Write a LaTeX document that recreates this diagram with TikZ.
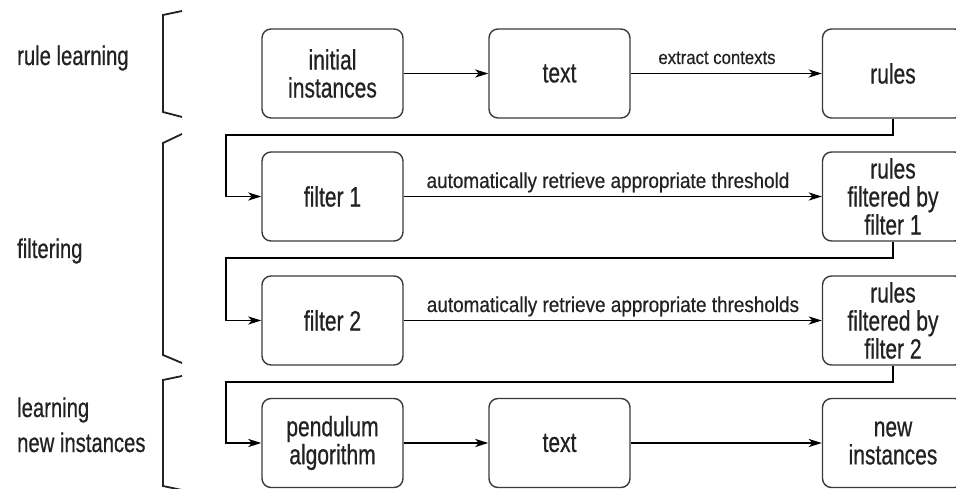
\documentclass[tikz,border=0pt]{standalone}
\usepackage{fontspec}
\usetikzlibrary{arrows.meta}
\newfontfamily\boxfont[FakeStretch=0.75,FakeBold=0.6]{Liberation Sans}
\newfontfamily\edgefont[FakeStretch=0.88,FakeBold=0.5]{Liberation Sans}
\definecolor{ink}{HTML}{222222}
\definecolor{frame}{HTML}{3A3A3A}
\tikzset{
  stagebox/.style={draw=frame, line width=1.4pt, rounded corners=9pt,
    minimum width=141pt, minimum height=89pt, inner sep=0pt, align=center,
    text=ink, font=\boxfont\fontsize{28}{28}\selectfont},
  conn/.style={draw=black, line width=1.9pt,
    -{Stealth[length=13pt,width=8pt,inset=3.5pt]}},
  brk/.style={draw=ink, line width=1.8pt},
  phase/.style={text=ink, inner sep=0pt, align=left,
    font=\boxfont\fontsize{27}{35}\selectfont},
  edgelab/.style={text=ink, inner sep=0pt, anchor=base,
    font=\edgefont\fontsize{21.5}{24}\selectfont}
}
\begin{document}
\begin{tikzpicture}[x=1pt,y=-1pt]
\clip (0,0) rectangle (956,489);

% phase labels
\node[phase, anchor=base west] (pl1) at (17,65) {rule learning};
\node[phase, anchor=base west] (pl2) at (17,258) {filtering};
\node[phase, anchor=base west] (pl3a) at (17,417) {learning};
\node[phase, anchor=base west] (pl3b) at (17,452) {new instances};

% phase brackets
\draw[brk] (182,11) -- (163,15) -- (163,112) -- (182,117);
\draw[brk] (182,134) -- (163,143) -- (163,355) -- (182,363);
\draw[brk] (182,376) -- (163,380) -- (163,486) -- (182,490);

% row 1: rule learning
\node[stagebox] (init)  at (332.5,73.5) {initial\\instances};
\node[stagebox] (text1) at (559.5,73.5) {text};
\node[stagebox] (rules) at (893,73.5)   {rules};

% row 2: first filter
\node[stagebox] (f1)  at (332.5,196.5) {filter 1};
\node[stagebox] (rf1) at (893,196.5)   {rules\\filtered by\\filter 1};

% row 3: second filter
\node[stagebox] (f2)  at (332.5,320.5) {filter 2};
\node[stagebox] (rf2) at (893,320.5)   {rules\\filtered by\\filter 2};

% row 4: learning new instances
\node[stagebox] (pend)  at (332.5,443) {pendulum\\algorithm};
\node[stagebox] (text2) at (559.5,443) {text};
\node[stagebox] (newi)  at (893,443)   {new\\instances};

% horizontal flow
\draw[conn] (init.east) -- (text1.west);
\draw[conn] (text1.east) -- (rules.west);
\draw[conn] (f1.east) -- (rf1.west);
\draw[conn] (f2.east) -- (rf2.west);
\draw[conn] (pend.east) -- (text2.west);
\draw[conn] (text2.east) -- (newi.west);

% edge labels
\node[edgelab, font=\edgefont\fontsize{19}{22}\selectfont] (lx) at (717,64) {extract contexts};
\node[edgelab] (l1) at (608,188) {automatically retrieve appropriate threshold};
\node[edgelab] (l2) at (613,312) {automatically retrieve appropriate thresholds};

% return lines between rows
\coordinate (b1) at (226,135);
\coordinate (b2) at (226,258);
\coordinate (b3) at (226,382);
\draw[conn] (rules.south) |- (b1) |- (f1.west);
\draw[conn] (rf1.south) |- (b2) |- (f2.west);
\draw[conn] (rf2.south) |- (b3) |- (pend.west);
\end{tikzpicture}
\end{document}
